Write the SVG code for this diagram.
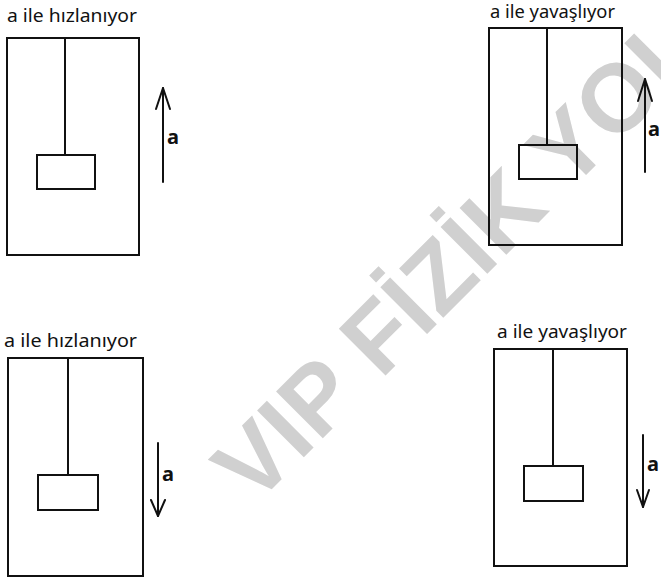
<svg xmlns="http://www.w3.org/2000/svg" width="661" height="579" viewBox="0 0 661 579">
<style>
.bg{fill:#ffffff}
.wm{font-family:"Liberation Sans",Arial,sans-serif;font-weight:bold;font-size:96px;fill:#d0d0d0}
.lbl{font-family:"Noto Sans","DejaVu Sans",sans-serif;font-size:18px;fill:#111}
.acc{font-family:"Noto Sans","DejaVu Sans",sans-serif;font-size:20px;font-weight:bold;fill:#111}
.box{fill:none;stroke:#111;stroke-width:2}
.str{stroke:#111;stroke-width:2;fill:none}
.arr{stroke:#111;stroke-width:2;fill:none;stroke-linecap:round;stroke-linejoin:round}
</style>
<rect class="bg" x="0" y="0" width="661" height="579"/>
<text class="wm" x="254" y="507" transform="rotate(-45 254 507)">VIP FİZİK YOL</text>

<g id="panel1">
<text class="lbl" x="7" y="22" textLength="130" lengthAdjust="spacingAndGlyphs">a ile hızlanıyor</text>
<rect class="box" x="7" y="38" width="132" height="217"/>
<line class="str" x1="65" y1="38" x2="65" y2="155"/>
<rect class="box" x="37" y="155" width="58" height="34"/>
</g>

<g id="panel2">
<text class="lbl" x="490" y="18" textLength="125" lengthAdjust="spacingAndGlyphs">a ile yavaşlıyor</text>
<rect class="box" x="489" y="28" width="133" height="217"/>
<line class="str" x1="547" y1="28" x2="547" y2="145"/>
<rect class="box" x="519" y="145" width="58" height="34"/>
</g>

<g id="panel3">
<text class="lbl" x="4" y="347" textLength="133" lengthAdjust="spacingAndGlyphs">a ile hızlanıyor</text>
<rect class="box" x="8" y="358" width="135" height="218"/>
<line class="str" x1="68" y1="358" x2="68" y2="475"/>
<rect class="box" x="38" y="475" width="60" height="35"/>
</g>

<g id="panel4">
<text class="lbl" x="497" y="338" textLength="130" lengthAdjust="spacingAndGlyphs">a ile yavaşlıyor</text>
<rect class="box" x="494" y="349" width="133" height="217"/>
<line class="str" x1="553" y1="349" x2="553" y2="466"/>
<rect class="box" x="524" y="466" width="59" height="35"/>
</g>

<g id="connectors">
<line class="arr" x1="163" y1="182" x2="163" y2="88"/>
<polyline class="arr" points="156,109 163,88 170,109"/>
<line class="arr" x1="645" y1="172" x2="645" y2="79"/>
<polyline class="arr" points="638,101 645,79 652,101"/>
<line class="arr" x1="158" y1="443" x2="158" y2="516"/>
<polyline class="arr" points="151,500 158,516 165,500"/>
<line class="arr" x1="643" y1="435" x2="643" y2="507"/>
<polyline class="arr" points="637,490 643,507 649,490"/>
</g>

<g id="accel-labels">
<text class="acc" x="167" y="144">a</text>
<text class="acc" x="648" y="136">a</text>
<text class="acc" x="162" y="481">a</text>
<text class="acc" x="647" y="471">a</text>
</g>
</svg>
